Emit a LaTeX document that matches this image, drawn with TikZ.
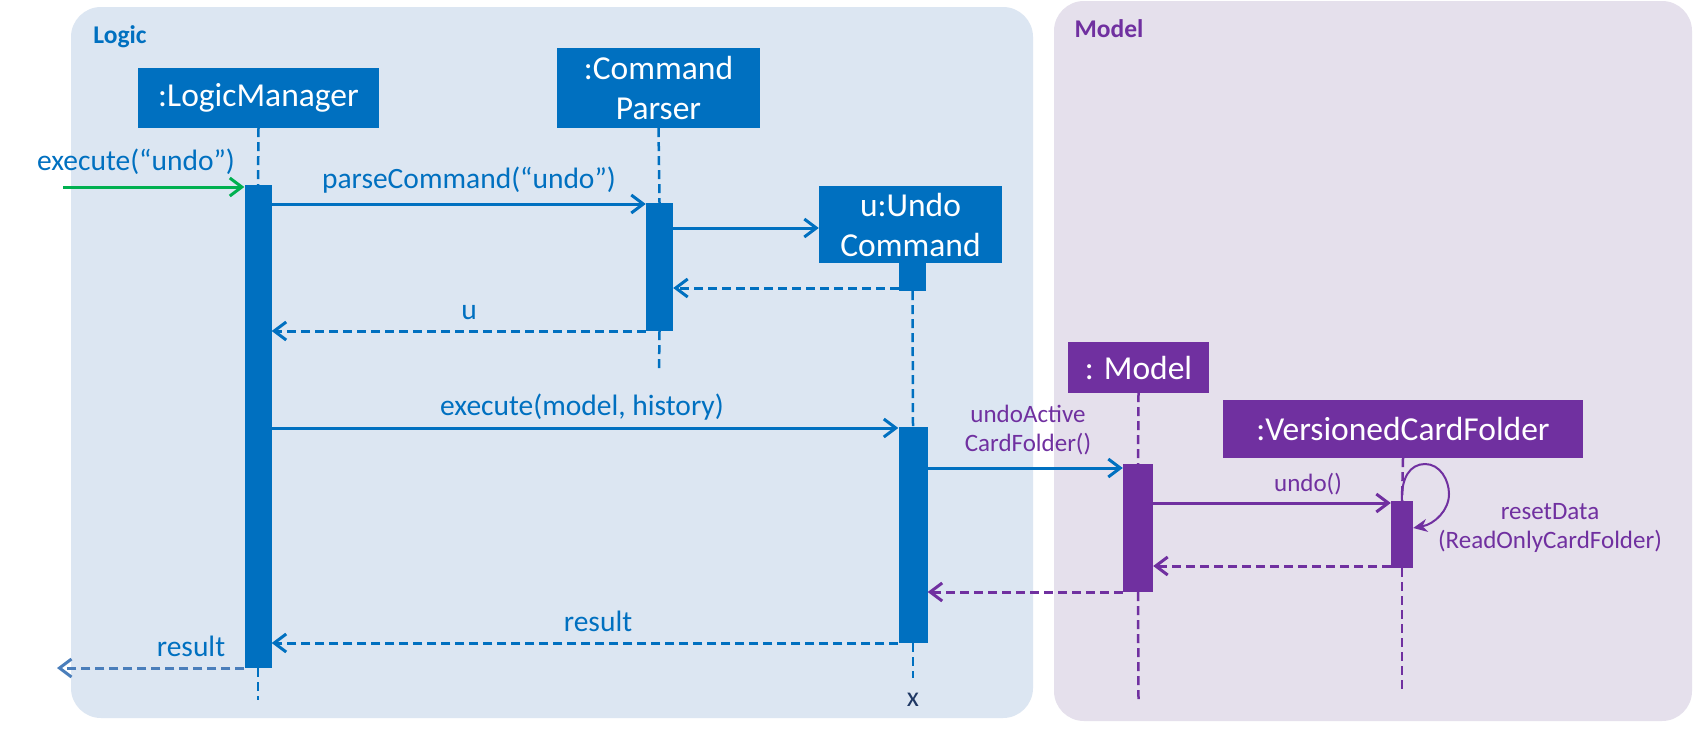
\documentclass[tikz,border=0pt]{standalone}
\usepackage{fontspec}
\setmainfont{Carlito}
\usetikzlibrary{arrows.meta}
\definecolor{lblue}{HTML}{0070C0}
\definecolor{lpurple}{HTML}{7030A0}
\definecolor{logicbg}{HTML}{DCE6F2}
\definecolor{modelbg}{HTML}{E5E0EC}
\definecolor{lgreen}{HTML}{00B050}
\definecolor{resblue}{HTML}{4A7EBB}
\definecolor{xnavy}{HTML}{1F3864}
\tikzset{
  objbox/.style={fill=lblue, text=white, inner sep=0pt, align=center, font=\fontsize{33.5}{40}\selectfont},
  pobjbox/.style={objbox, fill=lpurple},
  actbar/.style={fill=lblue, inner sep=0pt, minimum width=27pt},
  pactbar/.style={actbar, fill=lpurple},
  lifeline/.style={draw=lblue, line width=2.5pt, dash pattern=on 9pt off 5pt},
  plifeline/.style={lifeline, draw=lpurple},
  msg/.style={draw=lblue, line width=3pt, -{Straight Barb[length=12pt,width=18pt]}},
  pmsg/.style={msg, draw=lpurple},
  ret/.style={msg, dash pattern=on 9pt off 5pt},
  pret/.style={ret, draw=lpurple},
  blabel/.style={text=lblue, inner sep=0pt, font=\fontsize{29.5}{34}\selectfont},
  plabel/.style={text=lpurple, inner sep=0pt, align=center, font=\fontsize{25}{29}\selectfont},
  panellabel/.style={inner sep=0pt, font=\bfseries\fontsize{25.5}{29}\selectfont}
}
\begin{document}
\begin{tikzpicture}[x=1pt,y=-1pt]
\fill[white] (0,0) rectangle (1694,728);
\useasboundingbox (0,0) rectangle (1694,728);
% panels
\fill[logicbg, rounded corners=30pt] (71,7) rectangle (1033,718);
\fill[modelbg, rounded corners=30pt] (1054,1) rectangle (1692,721);
\node[panellabel, text=lblue] (logiclbl) at (120,37) {Logic};
\node[panellabel, text=lpurple] (modellbl) at (1109,29) {Model};
% objects
\node[objbox, minimum width=241pt, minimum height=60pt] (LM) at (258.5,98) {:LogicManager};
\node[objbox, minimum width=203pt, minimum height=80pt] (CP) at (658.5,88) {:Command\\Parser};
\node[objbox, minimum width=183pt, minimum height=77pt] (UC) at (910.5,224.5) {u:Undo\\Command};
\node[pobjbox, minimum width=141pt, minimum height=51pt] (MO) at (1138.5,367.5) {: Model};
\node[pobjbox, minimum width=360pt, minimum height=58pt] (VC) at (1403,429) {:VersionedCardFolder};
% activation bar positions
\coordinate (lmbarc) at (258,426.5);
\coordinate (cpbarc) at (659.5,267);
\coordinate (ucsmallc) at (912.5,277);
\coordinate (ucbarc) at (913,535);
\coordinate (mbarc) at (1138,528);
\coordinate (vbarc) at (1402,534.5);
% lifeline ends
\coordinate (lmend) at (258,700);
\coordinate (cpend) at (659,372);
\coordinate (ucend) at (913,678);
\coordinate (moend) at (1138.5,700);
\coordinate (vcend) at (1402,692);
% bars
\node[actbar, minimum height=483pt] (lmbar) at (lmbarc) {};
\node[actbar, minimum height=128pt] (cpbar) at (cpbarc) {};
\node[actbar, minimum height=28pt] (ucsmall) at (ucsmallc) {};
\node[actbar, minimum width=29pt, minimum height=216pt] (ucbar) at (ucbarc) {};
\node[pactbar, minimum width=30pt, minimum height=128pt] (mbar) at (mbarc) {};
\node[pactbar, minimum width=22pt, minimum height=67pt] (vbar) at (vbarc) {};
% lifelines
\draw[lifeline] (LM.south) -- (lmbar.north);
\draw[lifeline] (lmbar.south) -- (lmend);
\draw[lifeline] (CP.south) -- (cpbar.north);
\draw[lifeline] (cpbar.south) -- (cpend);
\draw[lifeline] (ucsmall.south) -- (ucbar.north);
\draw[lifeline] (ucbar.south) -- (ucend);
\draw[plifeline] (MO.south) -- (mbar.north);
\draw[plifeline] (mbar.south) -- (moend);
\draw[plifeline] (VC.south) -- (vbar.north);
\draw[plifeline] (vbar.south) -- (vcend);
\node[text=xnavy, inner sep=0pt, font=\fontsize{28}{34}\selectfont] (xmark) at (913,700) {x};
% message rows
\coordinate (r0) at (0,187);
\coordinate (r1) at (0,204);
\coordinate (r2) at (0,228);
\coordinate (r3) at (0,288);
\coordinate (r4) at (0,331);
\coordinate (r5) at (0,428);
\coordinate (r6) at (0,468);
\coordinate (r7) at (0,503);
\coordinate (r8) at (0,566);
\coordinate (r9) at (0,592);
\coordinate (r10) at (0,643);
\coordinate (r11) at (0,668);
\coordinate (rself) at (0,528);
\coordinate (inx) at (63,187);
\coordinate (outx) at (57,668);
% messages
\draw[msg, draw=lgreen] (inx) -- (lmbar.west |- r0);
\node[blabel] (l0) at (136,162) {execute(“undo”)};
\draw[msg] (lmbar.east |- r1) -- (cpbar.west |- r1);
\node[blabel] (l1) at (469,180) {parseCommand(“undo”)};
\draw[msg] (cpbar.east |- r2) -- (UC.west |- r2);
\draw[ret] (ucsmall.west |- r3) -- (cpbar.east |- r3);
\draw[ret] (cpbar.west |- r4) -- (lmbar.east |- r4);
\node[blabel] (l4) at (469,313) {u};
\draw[msg] (lmbar.east |- r5) -- (ucbar.west |- r5);
\node[blabel] (l5) at (582,407) {execute(model, history)};
\draw[msg] (ucbar.east |- r6) -- (mbar.west |- r6);
\node[plabel] (l6) at (1028,430) {undoActive\\CardFolder()};
\draw[pmsg] (mbar.east |- r7) -- (vbar.west |- r7);
\node[plabel] (l7) at (1308,484) {undo()};
\draw[draw=lpurple, line width=2pt, -{Stealth[length=14pt,width=13pt]}]
  (vbar.north) .. controls (1401,478) and (1410,464) .. (1425,464)
  .. controls (1440,464) and (1449,480) .. (1449,494)
  .. controls (1449,510) and (1435,524) .. (vbar.east |- rself);
\node[plabel] (l8) at (1550,528) {resetData\\(ReadOnlyCardFolder)};
\draw[pret] (vbar.west |- r8) -- (mbar.east |- r8);
\draw[pret] (mbar.west |- r9) -- (ucbar.east |- r9);
\draw[ret] (ucbar.west |- r10) -- (lmbar.east |- r10);
\node[blabel] (l10) at (598,621) {result};
\draw[ret, draw=resblue] (lmbar.west |- r11) -- (outx);
\node[blabel] (l11) at (191,646) {result};
\end{tikzpicture}
\end{document}
